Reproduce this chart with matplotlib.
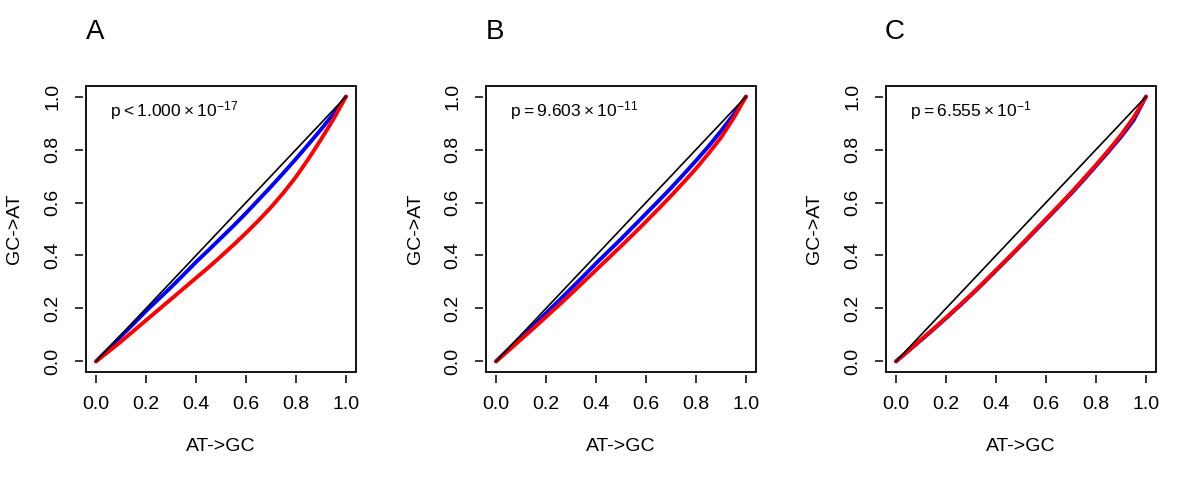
import matplotlib.pyplot as plt
from matplotlib.patches import Rectangle

plt.rcParams['font.family'] = ['Liberation Sans', 'DejaVu Sans']
plt.rcParams['mathtext.fontset'] = 'custom'
plt.rcParams['mathtext.rm'] = 'Liberation Sans'

# values (cumulative fractions)
x_pts = [0, 0.05, 0.1, 0.15, 0.2, 0.25, 0.3, 0.35, 0.4, 0.45, 0.5,
         0.55, 0.6, 0.65, 0.7, 0.75, 0.8, 0.85, 0.9, 0.95, 1.0]

blue_a = [0, 0.047, 0.095, 0.142, 0.19, 0.235, 0.28, 0.327, 0.375, 0.42, 0.466,
          0.512, 0.56, 0.61, 0.66, 0.712, 0.765, 0.82, 0.876, 0.935, 1.0]
red_a = [0, 0.037, 0.075, 0.115, 0.155, 0.195, 0.235, 0.275, 0.315, 0.355, 0.397,
         0.44, 0.485, 0.532, 0.582, 0.637, 0.697, 0.765, 0.838, 0.915, 1.0]

blue_b = [0, 0.046, 0.092, 0.137, 0.182, 0.228, 0.275, 0.322, 0.37, 0.416, 0.462,
          0.51, 0.558, 0.606, 0.655, 0.706, 0.758, 0.812, 0.87, 0.932, 1.0]
red_b = [0, 0.041, 0.083, 0.125, 0.168, 0.211, 0.255, 0.3, 0.345, 0.39, 0.435,
         0.481, 0.528, 0.576, 0.625, 0.676, 0.728, 0.785, 0.845, 0.918, 1.0]

blue_c = [0, 0.04, 0.08, 0.121, 0.163, 0.206, 0.25, 0.296, 0.343, 0.39, 0.438,
          0.486, 0.535, 0.584, 0.633, 0.685, 0.738, 0.792, 0.848, 0.91, 1.0]
red_c = [0, 0.041, 0.082, 0.123, 0.165, 0.208, 0.252, 0.298, 0.345, 0.392, 0.44,
         0.489, 0.538, 0.587, 0.637, 0.689, 0.742, 0.797, 0.855, 0.92, 1.0]

letters = ["A", "B", "C"]
p_texts = [
    r"$\mathregular{p < 1.000 \times 10^{-17}}$",
    r"$\mathregular{p = 9.603 \times 10^{-11}}$",
    r"$\mathregular{p = 6.555 \times 10^{-1}}$",
]
blues = [blue_a, blue_b, blue_c]
reds = [red_a, red_b, red_c]
ticks = [0.0, 0.2, 0.4, 0.6, 0.8, 1.0]

W, H = 1200, 480
fig = plt.figure(figsize=(12, 4.8), dpi=100)

for i in range(3):
    left = 86 + 400 * i
    ax = fig.add_axes([left / W, 108 / H, 270 / W, 286 / H])

    # R style: ticks a little off the box (set before ticks, it resets them)
    for s in ["top", "right"]:
        ax.spines[s].set_visible(False)
    for s in ["bottom", "left"]:
        ax.spines[s].set_position(("outward", 2.5))
        ax.spines[s].set_visible(False)
    ax.add_patch(Rectangle((0, 0), 1, 1, transform=ax.transAxes, fill=False,
                           lw=1.3, edgecolor="black", clip_on=False, zorder=5))

    ax.plot(x_pts, blues[i], color="#0000ff", lw=2.8, solid_capstyle="round", zorder=2)
    ax.plot(x_pts, reds[i], color="#ff0000", lw=2.8, solid_capstyle="round", zorder=3)
    ax.plot([0, 1], [0, 1], color="black", lw=1.2, zorder=4)

    ax.set_xlim(-0.04, 1.04)
    ax.set_ylim(-0.04, 1.04)
    ax.set_xticks(ticks)
    ax.set_yticks(ticks)
    ax.tick_params(direction="out", length=6, width=1.1, labelsize=14, pad=9)
    ax.set_xticklabels([f"{t:.1f}" for t in ticks])
    ax.set_yticklabels([f"{t:.1f}" for t in ticks], rotation=90, va="center")

    ax.set_xlabel("AT->GC", fontsize=14)
    ax.set_ylabel("GC->AT", fontsize=14)
    ax.xaxis.set_label_coords(0.5, -(446.7 - 372) / 286)
    ax.xaxis.label.set_va("center")
    ax.yaxis.set_label_coords(-(86 - 15) / 270, 0.5)
    ax.yaxis.label.set_va("center")

    ax.text(0.055, 0.948, p_texts[i], fontsize=12.5, ha="left", va="center")

    fig.text((95 + 400 * i) / W, 1 - 32 / H, letters[i], fontsize=20,
             ha="center", va="center")

fig.savefig("out.png", dpi=100)
